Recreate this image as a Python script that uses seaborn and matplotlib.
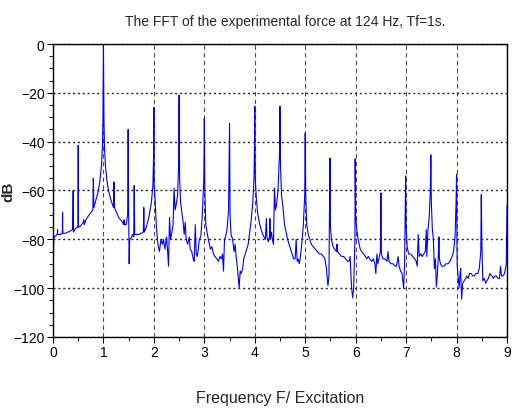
import matplotlib
matplotlib.use('Agg')
import matplotlib.pyplot as plt
import pandas as pd
import seaborn as sns
from matplotlib.ticker import MultipleLocator

# spectrum: frequency / excitation, level in dB
freq = [0.00, 0.005, 0.01, 0.015, 0.03, 0.06, 0.085, 0.09, 0.095, 0.15, 0.185, 0.19, 0.195,
        0.25, 0.30, 0.35, 0.39, 0.40, 0.405, 0.45, 0.495, 0.50, 0.505, 0.55, 0.60, 0.61, 0.62,
        0.65, 0.70, 0.75, 0.79, 0.80, 0.81, 0.85, 0.90, 0.93, 0.96, 0.98, 0.99, 1.00, 1.01,
        1.02, 1.04, 1.07, 1.10, 1.15, 1.20, 1.21, 1.22, 1.30, 1.38, 1.40, 1.41, 1.42, 1.45,
        1.48, 1.49, 1.50, 1.51, 1.52, 1.55, 1.58, 1.60, 1.61, 1.62, 1.70, 1.75, 1.79, 1.80,
        1.81, 1.85, 1.90, 1.95, 1.98, 1.995, 2.00, 2.005, 2.02, 2.05, 2.08, 2.11, 2.14, 2.17,
        2.19, 2.22, 2.25, 2.27, 2.29, 2.31, 2.33, 2.35, 2.38, 2.40, 2.42, 2.44, 2.47, 2.49,
        2.50, 2.51, 2.53, 2.56, 2.58, 2.60, 2.62, 2.64, 2.67, 2.70, 2.72, 2.75, 2.78, 2.80,
        2.82, 2.84, 2.86, 2.88, 2.90, 2.93, 2.96, 2.99, 3.00, 3.01, 3.03, 3.06, 3.09, 3.12,
        3.15, 3.18, 3.21, 3.25, 3.28, 3.31, 3.34, 3.36, 3.38, 3.40, 3.42, 3.45, 3.48, 3.50,
        3.51, 3.53, 3.56, 3.59, 3.61, 3.63, 3.65, 3.67, 3.69, 3.71, 3.73, 3.76, 3.78, 3.81,
        3.84, 3.87, 3.90, 3.93, 3.96, 3.985, 3.995, 4.00, 4.01, 4.03, 4.06, 4.10, 4.14, 4.18,
        4.21, 4.23, 4.24, 4.27, 4.29, 4.30, 4.31, 4.33, 4.35, 4.37, 4.39, 4.41, 4.43, 4.46,
        4.49, 4.50, 4.51, 4.53, 4.56, 4.59, 4.62, 4.65, 4.68, 4.71, 4.74, 4.77, 4.80, 4.82,
        4.84, 4.86, 4.88, 4.90, 4.93, 4.96, 4.99, 5.00, 5.01, 5.03, 5.06, 5.09, 5.12, 5.16,
        5.20, 5.24, 5.28, 5.32, 5.36, 5.39, 5.42, 5.45, 5.47, 5.49, 5.50, 5.52, 5.55, 5.58,
        5.62, 5.63, 5.64, 5.68, 5.72, 5.76, 5.80, 5.84, 5.87, 5.89, 5.90, 5.92, 5.94, 5.96,
        5.985, 5.99, 6.00, 6.02, 6.05, 6.09, 6.12, 6.16, 6.19, 6.22, 6.25, 6.28, 6.32, 6.35,
        6.38, 6.40, 6.42, 6.44, 6.46, 6.49, 6.50, 6.51, 6.54, 6.58, 6.62, 6.64, 6.66, 6.70,
        6.74, 6.78, 6.81, 6.84, 6.86, 6.89, 6.92, 6.95, 6.97, 6.99, 7.00, 7.02, 7.05, 7.09,
        7.13, 7.17, 7.20, 7.22, 7.24, 7.26, 7.29, 7.32, 7.35, 7.38, 7.40, 7.41, 7.43, 7.46,
        7.48, 7.49, 7.50, 7.52, 7.54, 7.56, 7.58, 7.60, 7.62, 7.64, 7.65, 7.66, 7.68, 7.71,
        7.75, 7.79, 7.83, 7.87, 7.91, 7.94, 7.97, 7.99, 8.00, 8.01, 8.03, 8.05, 8.07, 8.08,
        8.10, 8.12, 8.15, 8.18, 8.20, 8.23, 8.26, 8.29, 8.32, 8.35, 8.38, 8.42, 8.45, 8.48,
        8.49, 8.50, 8.52, 8.55, 8.58, 8.60, 8.63, 8.66, 8.70, 8.73, 8.76, 8.79, 8.82, 8.85,
        8.87, 8.89, 8.92, 8.95, 8.97, 8.985, 9.00]
level_db = [-80, -79, -87, -80, -79, -78.5, -78, -76, -78, -78, -77.5, -69, -77.5,
            -77.5, -77, -76.5, -76, -60, -77, -75.5, -75, -41.5, -75, -74.5, -73, -72, -74,
            -72, -70.5, -69, -68, -55, -67, -64, -60, -56, -50, -42, -30, 0, -30,
            -42, -50, -56, -60, -64, -67, -56.5, -67, -71, -73, -74, -72, -74, -74,
            -70, -35, -70, -90, -80, -79.5, -78, -79, -58, -78, -78, -77.5, -77, -67,
            -77, -75, -71, -65, -58, -45, -26, -58, -62, -75, -82, -85, -80, -82,
            -80, -84, -79, -84, -91, -71, -80, -78, -74, -59, -68, -66, -62, -50,
            -21, -55, -65, -70, -73, -78, -73, -80, -82, -79, -84, -85, -88, -89,
            -74, -86, -87, -84, -80, -79, -70, -55, -30.5, -60, -74, -78, -81, -84,
            -83, -86, -87, -88, -89, -87, -88, -86, -93, -80, -79, -76, -68, -32.5,
            -70, -78, -80, -85, -82, -87, -90.5, -95, -100, -93, -94, -92, -88, -86,
            -84, -82, -77, -72, -65, -55, -40, -25.4, -55, -63, -70, -74, -77, -79,
            -80, -71.5, -79, -81, -79, -71.5, -80, -77, -80, -82, -59, -68, -66, -60,
            -45, -25.5, -50, -62, -67, -74, -77, -80, -82, -84, -86, -88, -88, -80,
            -89, -88, -90, -88, -82, -75, -62, -36.5, -62, -74, -78, -80, -82, -83,
            -84, -85, -86, -86, -87, -88, -92, -99, -95, -46.7, -75, -80, -83, -84,
            -85, -82, -85, -86, -87, -87, -88, -89, -89, -87, -92, -100, -104, -100,
            -80, -47, -70, -76, -80, -84, -85, -86, -87, -88, -87, -88, -89, -88,
            -90, -94, -86, -90, -88, -85, -61, -86, -88, -88, -89, -85, -89, -90,
            -90, -91, -91, -87, -91, -93, -94, -100, -90, -54, -75, -83, -86, -86,
            -87, -88, -89, -91, -78, -87, -86, -87, -86, -85, -76, -87, -77, -70,
            -60, -45.4, -65, -76, -80, -92, -88, -99.5, -94, -86, -79, -88, -90, -91,
            -91, -90, -90, -89, -87, -85, -79, -65, -53.3, -90, -95, -100, -94, -92,
            -104.5, -98, -97, -96, -95, -96, -94, -94, -95, -95, -94, -94, -92, -85,
            -61.7, -80, -97, -96, -98, -97, -96, -94, -95, -96, -95, -95, -96, -96,
            -91, -95, -95, -94, -92, -90, -66]

df = pd.DataFrame({'freq': freq, 'dB': level_db})

sns.set_theme(style='white')
plt.rcParams['font.family'] = ['Liberation Sans', 'DejaVu Sans']

fig = plt.figure(figsize=(5.18, 4.14), dpi=100)
ax = fig.add_axes([0.1023, 0.1836, 0.8765, 0.7077])

sns.lineplot(data=df, x='freq', y='dB', sort=False, estimator=None,
             color='#0000ff', linewidth=0.8, ax=ax)

ax.set_xlim(0, 9)
ax.set_ylim(-120, 0)
ax.xaxis.set_major_locator(MultipleLocator(1))
ax.xaxis.set_minor_locator(MultipleLocator(0.5))
ax.yaxis.set_major_locator(MultipleLocator(20))
ax.yaxis.set_minor_locator(MultipleLocator(5))

ax.grid(axis='x', which='major', linestyle=(0, (4, 3)), color='0.3', linewidth=0.8)
ax.grid(axis='y', which='major', linestyle=(0, (1.5, 2)), color='0.15', linewidth=1.0)

ax.tick_params(axis='both', which='major', direction='out', length=4, width=0.8,
               labelsize=10, colors='black', pad=2)
ax.tick_params(axis='both', which='minor', direction='out', length=3, width=0.8)
ax.tick_params(bottom=True, left=True, top=False, right=False, which='both')

for side in ax.spines.values():
    side.set_color('black')
    side.set_linewidth(1.0)

ax.set_xlabel('Frequency F/ Excitation', fontsize=11.5, labelpad=22)
ax.set_ylabel('dB', fontsize=11, fontweight='bold')
ax.yaxis.set_label_coords(-0.082, 0.5)
ax.set_title('The FFT of the experimental force at 124 Hz, Tf=1s.', fontsize=10, pad=14,
             x=0.512)

fig.savefig('out.png', dpi=100)
